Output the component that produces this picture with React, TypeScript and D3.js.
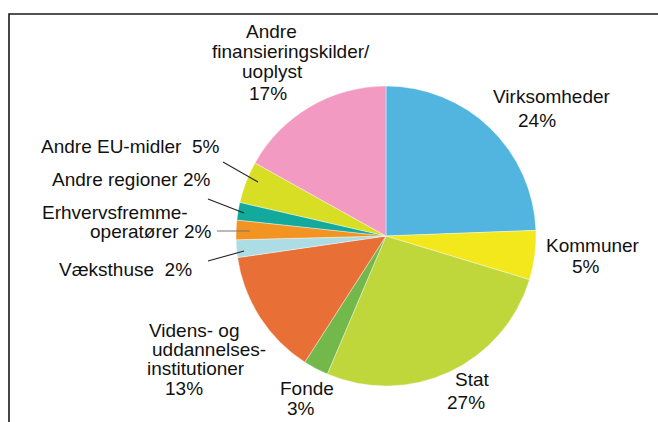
import React from "react";
import * as d3 from "d3";

const categories = [
  "Virksomheder",
  "Kommuner",
  "Stat",
  "Fonde",
  "Videns- og uddannelsesinstitutioner",
  "Væksthuse",
  "Erhvervsfremmeoperatører",
  "Andre regioner",
  "Andre EU-midler",
  "Andre finansieringskilder/uoplyst",
];
const values = [24.4, 5.3, 26.7, 2.7, 13.6, 1.9, 2.1, 1.9, 4.5, 16.9];
const labelLines: string[][] = [
  ["Virksomheder", "24%"],
  ["Kommuner", "5%"],
  ["Stat", "27%"],
  ["Fonde", "3%"],
  ["Videns- og", "uddannelses-", "institutioner", "13%"],
  ["Væksthuse  2%"],
  ["Erhvervsfremme-", "operatører 2%"],
  ["Andre regioner 2%"],
  ["Andre EU-midler  5%"],
  ["Andre", "finansieringskilder/", "uoplyst", "17%"],
];

const palette = [
  "#52b5df",
  "#f2e81c",
  "#c0d73c",
  "#72b84a",
  "#e87036",
  "#acdce4",
  "#f39322",
  "#13a99d",
  "#d8de24",
  "#f29ac2",
];

// layout of label lines: [x, baseline y] per line
const labelPos: [number, number][][] = [
  [[493, 103], [518, 127]],
  [[546, 252], [572, 273]],
  [[455, 386], [447, 409]],
  [[280, 395], [287, 415]],
  [[149, 337], [152, 356], [147, 375], [165, 395]],
  [[59, 276]],
  [[42, 219], [90, 238]],
  [[52, 186]],
  [[41, 153]],
  [[246, 38], [212, 58], [242, 78], [249, 100]],
];

const leaders: { pts: [number, number][]; color: string }[] = [
  { pts: [[223, 162], [258, 182]], color: "#222" },
  { pts: [[208, 199], [244, 213]], color: "#222" },
  { pts: [[217, 231], [250, 231]], color: "#777" },
  { pts: [[208, 261], [244, 251]], color: "#222" },
];

export default function App() {
  const W = 658;
  const H = 422;
  const cx = 386;
  const cy = 236;
  const r = 150;
  const pie = d3
    .pie<number>()
    .sort(null)
    .value((d) => d)
    .startAngle(0)
    .endAngle(2 * Math.PI);
  const arcs = pie(values);
  const arc = d3.arc<d3.PieArcDatum<number>>().innerRadius(0).outerRadius(r);
  const line = d3.line();

  return (
    <svg
      width={W}
      height={H}
      style={{ position: "absolute", left: 0, top: 0, background: "#fff" }}
      fontFamily="'Liberation Sans', Arial, sans-serif"
    >
      <rect x={0} y={0} width={W} height={H} fill="#fff" />
      <path d={`M9,${H} L9,14 L${W},14`} fill="none" stroke="#1a1a1a" strokeWidth={1.6} />
      <g transform={`translate(${cx},${cy})`}>
        {arcs.map((a, i) => (
          <path
            key={categories[i]}
            d={arc(a) || ""}
            fill={palette[i]}
            stroke="#fff"
            strokeWidth={0.4}
          />
        ))}
      </g>
      {leaders.map((l, i) => (
        <path key={i} d={line(l.pts) || ""} stroke={l.color} strokeWidth={1.1} fill="none" />
      ))}
      {labelLines.map((lines, i) =>
        lines.map((t, j) => (
          <text
            key={`${i}-${j}`}
            x={labelPos[i][j][0]}
            y={labelPos[i][j][1]}
            fontSize={19}
            fill="#111"
            style={{ whiteSpace: "pre" }}
          >
            {t}
          </text>
        ))
      )}
    </svg>
  );
}
